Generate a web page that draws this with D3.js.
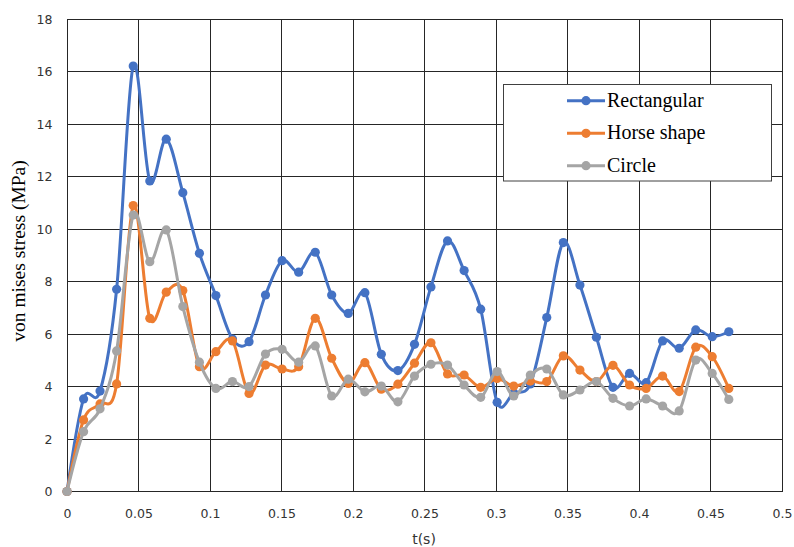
<!DOCTYPE html>
<html><head><meta charset="utf-8">
<script src="https://cdn.jsdelivr.net/npm/d3@7"></script>
<style>body{margin:0;background:#fff}svg{display:block}</style>
</head><body><svg id="c" width="794" height="547"></svg>
<script>
const times = [0,0.0116,0.0231,0.0347,0.0463,0.0579,0.0694,0.081,0.0926,0.1041,0.1157,0.1273,0.1388,0.1504,0.162,0.1736,0.1851,0.1967,0.2083,0.2198,0.2314,0.243,0.2545,0.2661,0.2777,0.2893,0.3008,0.3124,0.324,0.3355,0.3471,0.3587,0.3702,0.3818,0.3934,0.405,0.4165,0.4281,0.4397,0.4512,0.4628];
const rectangular = [0,3.53,3.83,7.71,16.22,11.84,13.43,11.39,9.08,7.47,5.81,5.71,7.49,8.8,8.36,9.12,7.49,6.79,7.58,5.23,4.61,5.61,7.8,9.55,8.42,6.95,3.4,3.75,4.1,6.63,9.49,7.87,5.88,3.97,4.5,4.15,5.74,5.46,6.16,5.9,6.09];
const horseShape = [0,2.73,3.34,4.1,10.9,6.6,7.6,7.66,4.76,5.33,5.74,3.74,4.82,4.67,4.76,6.6,5.08,4.12,4.91,3.9,4.09,4.89,5.67,4.48,4.44,3.97,4.31,4.02,4.21,4.19,5.17,4.63,4.19,4.81,4.06,3.93,4.4,3.81,5.5,5.14,3.93];
const circle = [0,2.28,3.15,5.36,10.54,8.76,9.97,7.05,4.93,3.93,4.19,4.0,5.24,5.42,4.93,5.55,3.64,4.28,3.8,4.02,3.42,4.4,4.85,4.82,4.06,3.59,4.57,3.64,4.44,4.67,3.68,3.87,4.19,3.55,3.26,3.53,3.26,3.07,5.01,4.5,3.51];
const seriesNames = ["Rectangular","Horse shape","Circle"];
const xTicks = [0,0.05,0.1,0.15,0.2,0.25,0.3,0.35,0.4,0.45,0.5];
const xTickLabels = ["0","0.05","0.1","0.15","0.2","0.25","0.3","0.35","0.4","0.45","0.5"];
const yTicks = [0,2,4,6,8,10,12,14,16,18];

const colors = ["#4472C4","#ED7D31","#A5A5A5"];
const svg = d3.select("#c");
const L=67,R=782,T=19.3,B=491.5;
const x = d3.scaleLinear().domain([0,0.5]).range([L,R]);
const y = d3.scaleLinear().domain([0,18]).range([B,T]);
const sans = "'DejaVu Sans','Liberation Sans',Arial,sans-serif";
const serif = "'Liberation Serif','Times New Roman',serif";

const grid = svg.append("g");
grid.selectAll("line.v").data(xTicks).join("line")
  .attr("x1",d=>x(d)).attr("x2",d=>x(d)).attr("y1",T).attr("y2",B)
  .attr("stroke","#262626").attr("stroke-width",1).attr("shape-rendering","crispEdges");
grid.selectAll("line.h").data(yTicks).join("line")
  .attr("y1",d=>y(d)).attr("y2",d=>y(d)).attr("x1",L).attr("x2",R)
  .attr("stroke","#262626").attr("stroke-width",1).attr("shape-rendering","crispEdges");

const xAxis = d3.axisBottom(x).tickValues(xTicks).tickFormat((d,i)=>xTickLabels[i]).tickSize(0).tickPadding(18);
const gx = svg.append("g").attr("transform",`translate(0,${B})`).call(xAxis);
gx.select(".domain").remove();
gx.selectAll("text").attr("font-family",sans).attr("font-size",12.5).attr("fill","#333");

const yAxis = d3.axisLeft(y).tickValues(yTicks).tickSize(0).tickPadding(14.5);
const gy = svg.append("g").attr("transform",`translate(${L},0)`).call(yAxis);
gy.select(".domain").remove();
gy.selectAll("text").attr("font-family",sans).attr("font-size",12.5).attr("fill","#333");

svg.append("text").attr("x",424).attr("y",544).attr("text-anchor","middle")
  .attr("font-family",sans).attr("font-size",14).attr("fill","#333").text("t(s)");
svg.append("text").attr("transform","translate(25,251) rotate(-90)").attr("text-anchor","middle")
  .attr("font-family",serif).attr("font-size",19.5).attr("fill","#000").text("von mises stress (MPa)");

const allSeries = [rectangular,horseShape,circle];
const line = d3.line().x((d,i)=>x(times[i])).y(d=>y(d)).curve(d3.curveCardinal.tension(0));
allSeries.forEach((s,k)=>{
  const g = svg.append("g");
  g.append("path").datum(s).attr("d",line).attr("fill","none").attr("stroke",colors[k]).attr("stroke-width",3).attr("stroke-linejoin","round");
  g.selectAll("circle").data(s).join("circle").attr("cx",(d,i)=>x(times[i])).attr("cy",d=>y(d)).attr("r",4.6).attr("fill",colors[k]);
});

const leg = svg.append("g");
leg.append("rect").attr("x",503.5).attr("y",84.5).attr("width",268).attr("height",96.5).attr("fill","#fff").attr("stroke","#404040").attr("stroke-width",1);
const rows=[100.7,133.3,165.7];
seriesNames.forEach((n,k)=>{
  leg.append("line").attr("x1",567).attr("x2",605).attr("y1",rows[k]).attr("y2",rows[k]).attr("stroke",colors[k]).attr("stroke-width",3);
  leg.append("circle").attr("cx",586).attr("cy",rows[k]).attr("r",4.6).attr("fill",colors[k]);
  leg.append("text").attr("x",607).attr("y",rows[k]+5.8).attr("font-family",serif).attr("font-size",20).attr("fill","#000").text(n);
});
</script></body></html>
